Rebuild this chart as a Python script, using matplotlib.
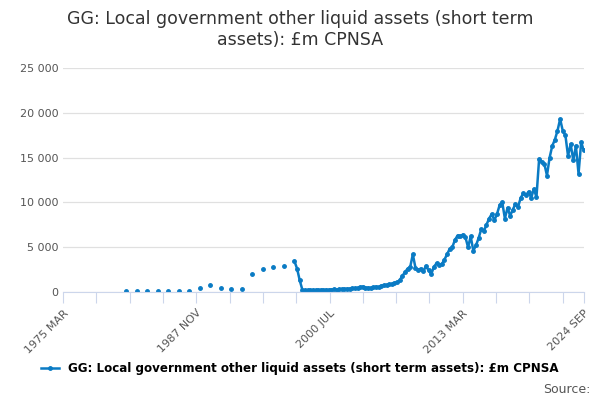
import numpy as np
import matplotlib.pyplot as plt

# annual observations 1981-1996 (months since 1975 MAR)
annual_years = list(range(1981, 1997))
annual_vals = [100, 100, 100, 100, 120, 120, 150, 450, 780, 480, 330, 330, 2040, 2530, 2750, 2940]

# quarterly observations from 1997
q_start = 1997
q_vals = [
    3430, 2600, 1300, 250,
    200, 180, 200, 220,
    200, 210, 230, 220,
    250, 230, 260, 280,
    270, 300, 280, 320,
    350, 380, 400, 420,
    450, 550, 600, 500,
    480, 450, 520, 600,
    550, 700, 750, 800,
    850, 900, 1000, 1100,
    1300, 1800, 2200, 2600,
    2800, 4200, 2700, 2500,
    2600, 2300, 2900, 2400,
    2000, 2800, 3200, 3000,
    3100, 3600, 4200, 4800,
    5000, 5800, 6300, 6200,
    6400, 6100, 5000, 6200,
    4600, 5200, 6000, 7000,
    6800, 7500, 8200, 8700,
    8000, 8700, 9700, 10000,
    8200, 9400, 8500, 9200,
    9800, 9500, 10500, 11000,
    10800, 11200, 10500, 11500,
    10600, 14800, 14500, 14300,
    13000, 15000, 16300, 17000,
    18000, 19300, 18000, 17500,
    15200, 16500, 14700, 16300,
    13200, 16700, 15800,
]
tick_labels = ["1975 MAR", "1987 NOV", "2000 JUL", "2013 MAR", "2024 SEP"]
title = "GG: Local government other liquid assets (short term\nassets): £m CPNSA"

color = "#0a7bc4"
annual_x = [(y - 1975) * 12 for y in annual_years]
q_x = [(q_start - 1975) * 12 + 3 * i for i in range(len(q_vals))]

fig = plt.figure(figsize=(6, 4), dpi=100)
ax = fig.add_axes([0.105, 0.27, 0.868, 0.56])
ax.plot(annual_x, annual_vals, "o", color=color, ms=2.5)
ax.plot(q_x, q_vals, "-o", color=color, ms=2.5, lw=1.8,
        label="GG: Local government other liquid assets (short term assets): £m CPNSA")

ax.set_xlim(0, 594)
ax.set_ylim(0, 25000)
ax.set_yticks([0, 5000, 10000, 15000, 20000, 25000])
ax.set_yticklabels(["0", "5 000", "10 000", "15 000", "20 000", "25 000"])
major = [0, 152, 304, 456, 594]
ticks = list(range(0, 594, 38)) + [594]
ax.set_xticks(ticks)
ax.set_xticklabels([tick_labels[major.index(m)] if m in major else "" for m in ticks],
                   rotation=45, ha="right", rotation_mode="anchor")
ax.grid(axis="y", color="#e0e0e0", lw=0.9)
ax.set_axisbelow(True)
for s in ["left", "right", "top"]:
    ax.spines[s].set_visible(False)
ax.spines["bottom"].set_color("#ccd6eb")
ax.tick_params(axis="y", length=0, labelsize=8, colors="#555555")
ax.tick_params(axis="x", length=8, color="#ccd6eb", labelsize=8, colors="#555555")

fig.suptitle(title, y=0.975, fontsize=12.5, color="#333333")
fig.legend(loc="lower center", bbox_to_anchor=(0.5, 0.035), frameon=False,
           prop={"weight": "bold", "size": 8.6}, handlelength=1.5)
fig.text(0.985, 0.01, "Source:", ha="right", va="bottom", fontsize=9, color="#555555")
fig.savefig("out.png")
